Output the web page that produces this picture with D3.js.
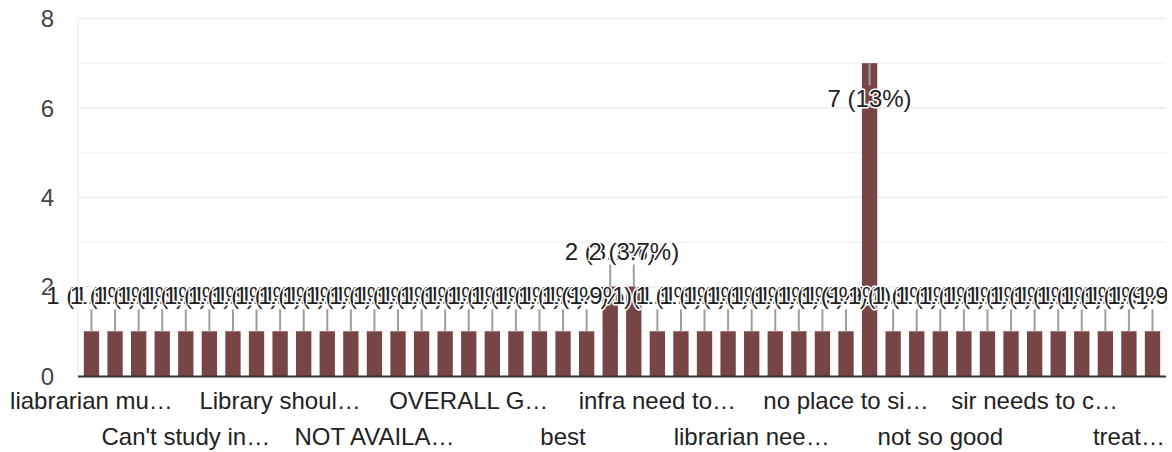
<!DOCTYPE html>
<html>
<head>
<meta charset="utf-8">
<script src="https://cdn.jsdelivr.net/npm/d3@7"></script>
<style>
  html, body { margin: 0; padding: 0; background: #fff; }
  svg { display: block; font-family: "Liberation Sans", Arial, sans-serif; }
</style>
</head>
<body>
<svg id="chart" width="1172" height="452"></svg>
<script>
// ---- data ----
const categories = [
  "liabrarian must be polite", "Books are not available", "Can't study in library", "Good",
  "Library should open early", "More books needed", "NA", "Nice",
  "NOT AVAILABLE", "Need more computers", "No comments", "Ok",
  "OVERALL GOOD", "Satisfactory", "Silence should be maintained", "Very good",
  "WiFi not working", "average", "bad", "better",
  "best", "books are old", "good", "good library",
  "infra need to be improved", "it is fine", "keep it up", "less space",
  "librarian needs to be polite", "library is good", "more seats", "nice library",
  "no place to sit", "none", "not bad", "not good",
  "not so good", "nothing", "ok ok", "satisfied",
  "sir needs to check", "staff is good", "timing should change", "too small",
  "treat students well", "very good"
];
const values = [
  1, 1, 1, 1, 1, 1, 1, 1, 1, 1, 1, 1, 1, 1, 1, 1,
  1, 1, 1, 1, 1, 1, 2, 2, 1, 1, 1, 1, 1, 1, 1, 1,
  1, 7, 1, 1, 1, 1, 1, 1, 1, 1, 1, 1, 1, 1
];
// displayed (truncated) axis labels, one for every 4th category
const tickLabels = [
  "liabrarian mu\u2026", "Can't study in\u2026", "Library shoul\u2026", "NOT AVAILA\u2026",
  "OVERALL G\u2026", "best", "infra need to\u2026", "librarian nee\u2026",
  "no place to si\u2026", "not so good", "sir needs to c\u2026", "treat\u2026"
];
const yTicks = [0, 2, 4, 6, 8];
const yMinorTicks = [1, 3, 5, 7];

// ---- layout ----
const svg = d3.select("#chart");
const plotLeft = 78, plotRight = 1166, plotTop = 18.5, plotBottom = 376;
const barColor = "#774545";

const x = d3.scaleBand().domain(d3.range(categories.length)).range([79.7, 1164.3]).padding(0);
const y = d3.scaleLinear().domain([0, 8]).range([plotBottom, plotTop]);
const barW = x.bandwidth() * 0.65;
const total = d3.sum(values);
const pct = d3.format(".2r");

// gridlines
svg.append("g").selectAll("line").data(yMinorTicks).join("line")
  .attr("x1", plotLeft).attr("x2", plotRight)
  .attr("y1", d => y(d)).attr("y2", d => y(d))
  .attr("stroke", "#f3f3f3").attr("stroke-width", 1.5);
svg.append("g").selectAll("line").data(yTicks.filter(d => d > 0)).join("line")
  .attr("x1", plotLeft).attr("x2", plotRight)
  .attr("y1", d => y(d)).attr("y2", d => y(d))
  .attr("stroke", "#ebebeb").attr("stroke-width", 1.5);
svg.append("line")
  .attr("x1", plotLeft).attr("x2", plotLeft).attr("y1", plotTop).attr("y2", plotBottom)
  .attr("stroke", "#efefef").attr("stroke-width", 1.5);

// bars
svg.append("g").selectAll("rect").data(values).join("rect")
  .attr("x", (d, i) => x(i) + (x.bandwidth() - barW) / 2)
  .attr("width", barW)
  .attr("y", d => y(d))
  .attr("height", d => y(0) - y(d))
  .attr("fill", barColor);

// baseline
svg.append("line")
  .attr("x1", plotLeft).attr("x2", plotRight).attr("y1", plotBottom + 0.5).attr("y2", plotBottom + 0.5)
  .attr("stroke", "#333").attr("stroke-width", 2);

// y tick labels
svg.append("g").selectAll("text").data(yTicks).join("text")
  .attr("x", 54).attr("y", d => y(d)).attr("dy", "0.36em")
  .attr("text-anchor", "end").attr("font-size", 24).attr("fill", "#444")
  .text(d => d);

// x labels (two staggered rows)
svg.append("g").selectAll("text").data(tickLabels).join("text")
  .attr("x", (d, k) => x(k * 4) + x.bandwidth() / 2)
  .attr("y", (d, k) => k % 2 === 0 ? 409 : 445)
  .attr("text-anchor", "middle").attr("font-size", 24).attr("fill", "#222")
  .text(d => d);

// annotations
svg.append("defs").append("clipPath").attr("id", "annClip")
  .append("rect").attr("x", 0).attr("y", 0).attr("width", 1167).attr("height", 452);
const ann = svg.append("g").attr("clip-path", "url(#annClip)");
const stemLen = 22, gap = 5, capH = 17;
values.forEach((v, i) => {
  const cx = x(i) + x.bandwidth() / 2;
  const top = y(v);
  const inside = top - stemLen - gap - capH < plotTop + 5;
  const stemEnd = inside ? top + stemLen : top - stemLen;
  ann.append("line")
    .attr("x1", cx).attr("x2", cx).attr("y1", top).attr("y2", stemEnd)
    .attr("stroke", "#9e9e9e").attr("stroke-width", 2);
  const baseY = inside ? stemEnd + gap + capH : stemEnd - gap;
  ann.append("text")
    .attr("x", cx).attr("y", baseY)
    .attr("text-anchor", "middle").attr("font-size", 24).attr("fill", "#222")
    .attr("stroke", "#fff").attr("stroke-width", 3).attr("stroke-linejoin", "round")
    .attr("paint-order", "stroke")
    .text(`${v} (${pct(v / total * 100)}%)`);
});
</script>
</body>
</html>
